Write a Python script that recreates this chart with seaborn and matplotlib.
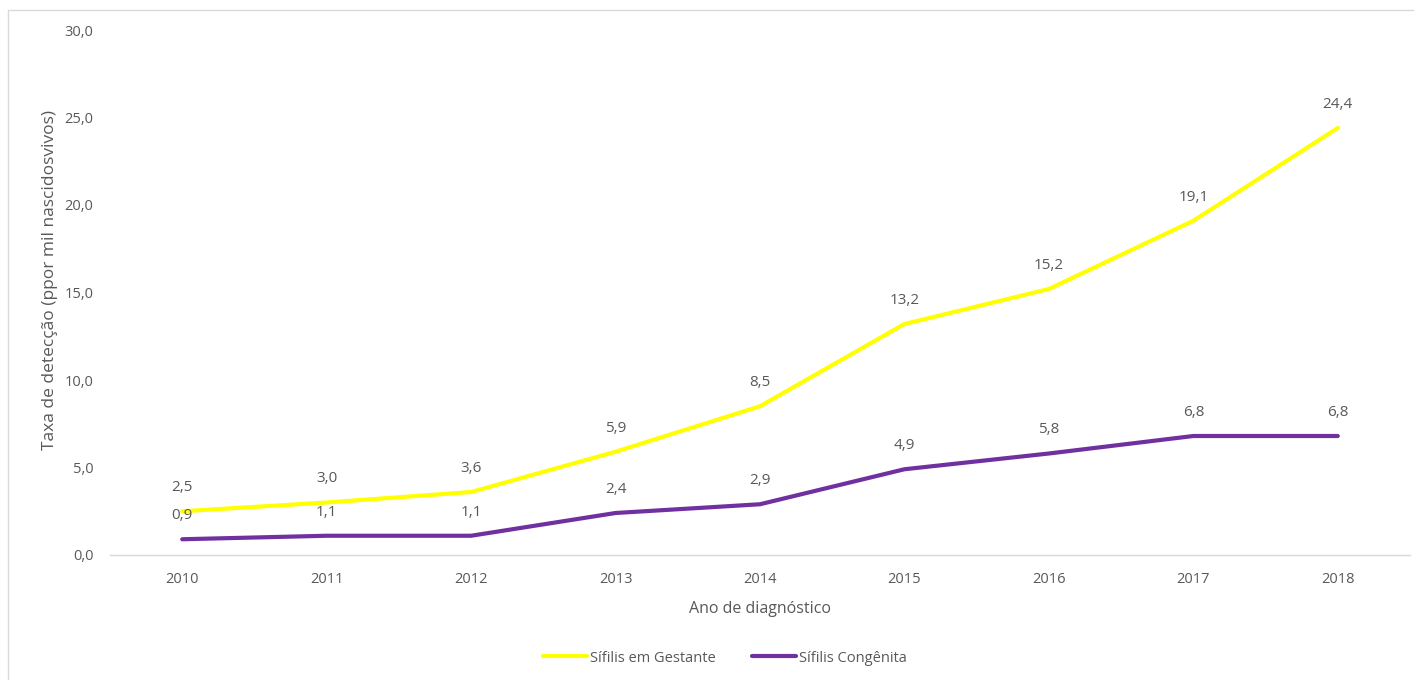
import matplotlib
matplotlib.use("Agg")
import matplotlib.pyplot as plt
import seaborn as sns
import pandas as pd
from matplotlib.patches import Rectangle
from matplotlib.lines import Line2D

years = [2010, 2011, 2012, 2013, 2014, 2015, 2016, 2017, 2018]
gestante = [2.5, 3.0, 3.6, 5.9, 8.5, 13.2, 15.2, 19.1, 24.4]
congenita = [0.9, 1.1, 1.1, 2.4, 2.9, 4.9, 5.8, 6.8, 6.8]
series_names = ["Sífilis em Gestante", "Sífilis Congênita"]
colors = ["#FFFF00", "#7030A0"]

sns.set_theme(style="white")
plt.rcParams['font.family'] = ['Open Sans', 'DejaVu Sans']

df = pd.DataFrame({
    "pos": list(range(len(years))) * 2,
    "value": gestante + congenita,
    "serie": [series_names[0]] * len(years) + [series_names[1]] * len(years),
})

fig = plt.figure(figsize=(14.14, 6.8), dpi=100)
ax = fig.add_axes([110/1414, 125/680, 1300/1414, 525/680])

sns.lineplot(data=df, x="pos", y="value", hue="serie", palette=colors,
             linewidth=3, ax=ax, legend=False, solid_capstyle="round")

txt = "#595959"
for vals in (gestante, congenita):
    for i, v in enumerate(vals):
        ax.annotate(f"{v:.1f}".replace(".", ","), (i, v), xytext=(0, 17),
                    textcoords="offset points", ha="center", va="center",
                    fontsize=11, color=txt)

ax.set_xlim(-0.5, len(years) - 0.5)
ax.set_ylim(0, 30)
ax.set_yticks([0, 5, 10, 15, 20, 25, 30])
ax.set_yticklabels([f"{t:.1f}".replace(".", ",") for t in [0, 5, 10, 15, 20, 25, 30]])
ax.set_xticks(range(len(years)))
ax.set_xticklabels([str(y) for y in years])
ax.tick_params(axis="both", length=0, colors=txt, labelsize=10.5)
ax.tick_params(axis="y", pad=12)
ax.tick_params(axis="x", pad=12)

for s in ["top", "right", "left"]:
    ax.spines[s].set_visible(False)
ax.spines["bottom"].set_color("#D9D9D9")
ax.spines["bottom"].set_linewidth(1)

ax.set_xlabel("Ano de diagnóstico", color=txt, fontsize=11.5, labelpad=10)
ax.set_ylabel("Taxa de detecção (ppor mil nascidosvivos)", color=txt, fontsize=12.5)
ax.yaxis.set_label_coords(-52/1300, (555 - 280) / 525)

handles = [Line2D([0], [0], color=c, lw=3, solid_capstyle="round") for c in colors]
fig.legend(handles, series_names, loc="center", bbox_to_anchor=(725/1414, 1 - 658/680),
           ncol=2, frameon=False, fontsize=10.5, labelcolor=txt, handlelength=3,
           handletextpad=0.2, columnspacing=2.5)

fig.patches.append(Rectangle((8/1414, -0.1), 1.2, 1 - 10/680 + 0.1, transform=fig.transFigure,
                             fill=False, edgecolor="#D9D9D9", linewidth=1))

fig.savefig("out.png", dpi=100)
